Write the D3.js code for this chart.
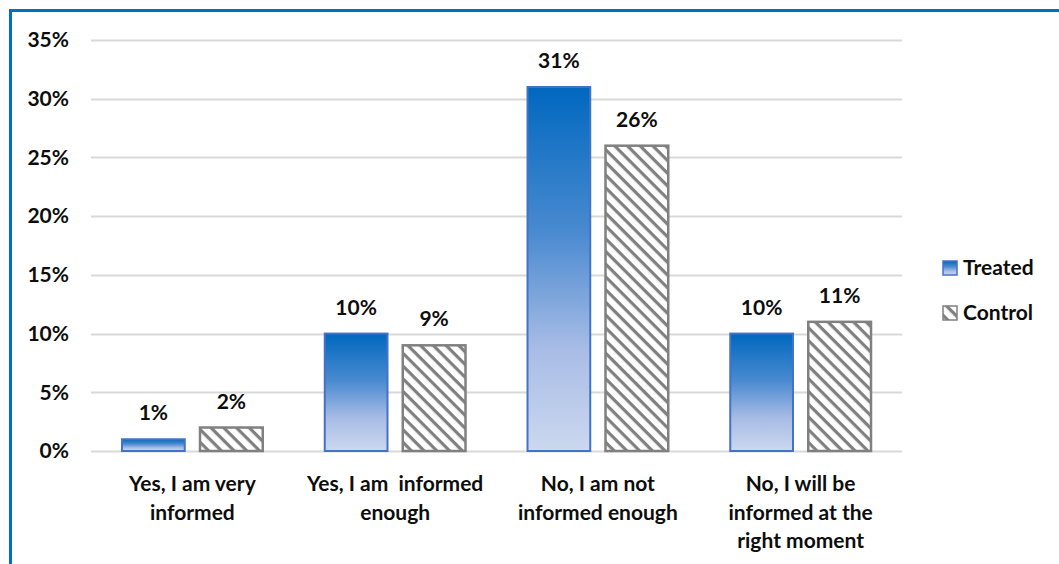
<!DOCTYPE html>
<html>
<head>
<meta charset="utf-8">
<script src="https://cdn.jsdelivr.net/npm/d3@7"></script>
<style>
  body { margin: 0; background: #fff; }
  svg { display: block; font-family: Lato, "Open Sans", sans-serif; }
</style>
</head>
<body>
<svg id="chart" width="1059" height="564"></svg>
<script>
const categories = [
  ["Yes, I am very", "informed"],
  ["Yes, I am  informed", "enough"],
  ["No, I am not", "informed enough"],
  ["No, I will be", "informed at the", "right moment"]
];
const series = ["Treated", "Control"];
const treated = [1, 10, 31, 10];
const control = [2, 9, 26, 11];
const yTicks = [0, 5, 10, 15, 20, 25, 30, 35];

const svg = d3.select("#chart");
const margin = { top: 40, left: 91, right: 157, bottom: 113 };
const W = 1059, H = 564;

// frame
svg.append("path")
  .attr("d", `M10.5,${H + 5} V10.5 H${W + 5}`)
  .attr("fill", "none")
  .attr("stroke", "#0070c0")
  .attr("stroke-width", 3);

const defs = svg.append("defs");
const grad = defs.append("linearGradient")
  .attr("id", "treatedGrad")
  .attr("x1", 0).attr("y1", 0).attr("x2", 0).attr("y2", 1);
grad.append("stop").attr("offset", "0%").attr("stop-color", "#0068bf");
grad.append("stop").attr("offset", "40%").attr("stop-color", "#4a8ad0");
grad.append("stop").attr("offset", "72%").attr("stop-color", "#a8bce5");
grad.append("stop").attr("offset", "100%").attr("stop-color", "#cbd8ef");

const pat = defs.append("pattern")
  .attr("id", "stripes")
  .attr("patternUnits", "userSpaceOnUse")
  .attr("width", 9).attr("height", 9)
  .attr("patternTransform", "rotate(45)");
pat.append("rect").attr("width", 9).attr("height", 9).attr("fill", "#fff");
pat.append("rect").attr("width", 9).attr("height", 3.2).attr("fill", "#808080");

const x0 = d3.scaleBand()
  .domain(d3.range(categories.length))
  .range([margin.left, W - margin.right]);

const x1 = d3.scaleBand()
  .domain(series)
  .range([30, x0.bandwidth() - 30])
  .paddingInner(0.17);

const y = d3.scaleLinear()
  .domain([0, 35])
  .range([H - margin.bottom, margin.top]);

// grid
svg.append("g")
  .selectAll("line")
  .data(yTicks)
  .join("line")
  .attr("x1", margin.left)
  .attr("x2", W - margin.right)
  .attr("y1", (d) => Math.round(y(d)) + 0.5)
  .attr("y2", (d) => Math.round(y(d)) + 0.5)
  .attr("stroke", "#d9d9d9")
  .attr("stroke-width", 2);

// y labels
svg.append("g")
  .selectAll("text")
  .data(yTicks)
  .join("text")
  .attr("x", 69)
  .attr("y", (d) => y(d))
  .attr("dy", "0.35em")
  .attr("text-anchor", "end")
  .attr("font-size", 21)
  .attr("font-weight", "bold")
  .attr("fill", "#0d0d0d")
  .text((d) => d + "%");

const rows = categories.map((c, i) => ({ i, Treated: treated[i], Control: control[i] }));

const groups = svg.append("g")
  .selectAll("g")
  .data(rows)
  .join("g")
  .attr("transform", (d) => `translate(${x0(d.i)},0)`);

const cells = groups.selectAll("g")
  .data((d) => series.map((key) => ({ key, value: d[key] })))
  .join("g");

cells.append("rect")
  .attr("x", (d) => x1(d.key) + 1)
  .attr("y", (d) => y(d.value))
  .attr("width", x1.bandwidth() - 2)
  .attr("height", (d) => y(0) - y(d.value))
  .attr("fill", (d) => d.key === "Treated" ? "url(#treatedGrad)" : "url(#stripes)")
  .attr("stroke", (d) => d.key === "Treated" ? "#4472c4" : "#808080")
  .attr("stroke-width", (d) => d.key === "Treated" ? 2 : 2.5);

cells.append("text")
  .attr("x", (d) => x1(d.key) + x1.bandwidth() / 2)
  .attr("y", (d) => y(d.value) - 19)
  .attr("text-anchor", "middle")
  .attr("font-size", 21)
  .attr("font-weight", "bold")
  .attr("fill", "#0d0d0d")
  .text((d) => d.value + "%");

// category labels
svg.append("g")
  .selectAll("text")
  .data(categories)
  .join("text")
  .attr("x", (d, i) => x0(i) + x0.bandwidth() / 2)
  .attr("y", 491)
  .attr("text-anchor", "middle")
  .attr("font-size", 21)
  .attr("font-weight", "bold")
  .attr("fill", "#0d0d0d")
  .style("white-space", "pre")
  .selectAll("tspan")
  .data((d) => d)
  .join("tspan")
  .attr("x", function () { return d3.select(this.parentNode).attr("x"); })
  .attr("dy", (d, i) => i === 0 ? 0 : 28.5)
  .text((d) => d);

// legend
const legend = svg.append("g")
  .selectAll("g")
  .data(series)
  .join("g")
  .attr("transform", (d, i) => `translate(943,${268 + i * 45})`);

legend.append("rect")
  .attr("x", 0).attr("y", -7)
  .attr("width", 14).attr("height", 14)
  .attr("fill", (d) => d === "Treated" ? "url(#treatedGrad)" : "url(#stripes)")
  .attr("stroke", (d) => d === "Treated" ? "#4472c4" : "#808080")
  .attr("stroke-width", 1.5);

legend.append("text")
  .attr("x", 20)
  .attr("dy", "0.35em")
  .attr("font-size", 21)
  .attr("font-weight", "bold")
  .attr("fill", "#0d0d0d")
  .text((d) => d);
</script>
</body>
</html>
